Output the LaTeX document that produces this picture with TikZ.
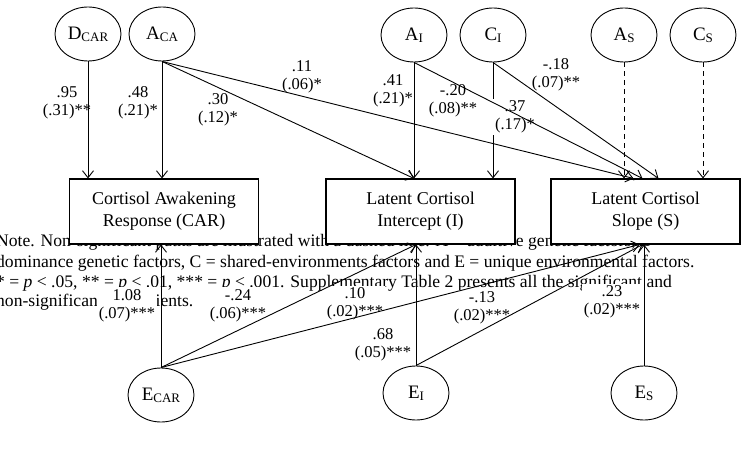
\documentclass[tikz,border=0pt]{standalone}
\usepackage{fontspec}
\setmainfont{Liberation Serif}
\usetikzlibrary{shapes.geometric}
\usetikzlibrary{arrows.meta}
\newcommand{\lsub}[2]{#1\raisebox{-0.25ex}{\fontsize{13}{13}\selectfont #2}}

\begin{document}
\begin{tikzpicture}[x=1pt, y=-1pt,
    factor/.style={draw, ellipse, fill=white, line width=0.9pt, minimum width=66pt, minimum height=54pt, inner sep=0pt, font=\fontsize{19}{21}\selectfont},
    latent/.style={draw, rectangle, fill=white, line width=1.1pt, minimum width=189pt, minimum height=65pt, align=center, font=\fontsize{18}{22}\selectfont},
    coef/.style={fill=white, inner sep=2pt, align=center, font=\fontsize{16.5}{18}\selectfont},
    notetext/.style={anchor=base west, inner sep=0pt, font=\fontsize{17.6}{20}\selectfont},
    sigpath/.style={line width=0.9pt, -{Straight Barb[length=7pt,width=11pt]}},
    nspath/.style={sigpath, dash pattern=on 5pt off 4pt}]
                \useasboundingbox (0,0) rectangle (744,449);
                % note under the figure
                \node[notetext] (note1) at (-4,247) {Note. Non-significant paths are illustrated with a dashed line. A = additive genetic factors, D =};
                \node[notetext] (note2) at (-4,267) {dominance genetic factors, C = shared-environments factors and E = unique environmental factors.};
                \node[notetext] (note3) at (-4,287) {* = \textit{p} < .05, ** = \textit{p} < .01, *** = \textit{p} < .001. Supplementary Table 2 presents all the significant and};
                \node[notetext] (note4) at (-4,306) {non-significant coefficients.};
                % phenotypes
                \node[latent] (car) at (164,211.5) {Cortisol Awakening\\Response (CAR)};
                \node[latent] (int) at (420.5,211.5) {Latent Cortisol\\Intercept (I)};
                \node[latent] (slope) at (645.5,211.5) {Latent Cortisol\\Slope (S)};
                % factors
                \node[factor] (dcar) at (88,34) {\lsub{D}{CAR}};
                \node[factor] (aca) at (162,34) {\lsub{A}{CA}};
                \node[factor] (ai) at (414,35) {\lsub{A}{I}};
                \node[factor] (ci) at (493,35) {\lsub{C}{I}};
                \node[factor] (as) at (624,35) {\lsub{A}{S}};
                \node[factor] (cs) at (703,35) {\lsub{C}{S}};
                \node[factor] (ecar) at (161,395) {\lsub{E}{CAR}};
                \node[factor] (ei) at (416,393) {\lsub{E}{I}};
                \node[factor] (es) at (644,393) {\lsub{E}{S}};
                \draw[sigpath] (ci.south) -- (ci.south |- int.north);
                % coefficients
                \node[coef] (cdcar) at (67,102.5) {.95\\(.31)**};
                \node[coef] (caca) at (138,102.5) {.48\\(.21)*};
                \node[coef] (cacai) at (218,109.5) {.30\\(.12)*};
                \node[coef] (cacas) at (302,76.5) {.11\\(.06)*};
                \node[coef] (cai) at (393,90.5) {.41\\(.21)*};
                \node[coef] (cci) at (453,100.5) {-.20\\(.08)**};
                \node[coef] (cais) at (515,117) {.37\\(.17)*};
                \node[coef] (ccs) at (556,74.5) {-.18\\(.07)**};
                \node[coef] (cecar) at (127,305.5) {1.08\\(.07)***};
                \node[coef] (cecari) at (238,305.5) {-.24\\(.06)***};
                \node[coef] (cecars) at (355,304) {.10\\(.02)***};
                \node[coef] (cei) at (383,345) {.68\\(.05)***};
                \node[coef] (ceis) at (482,308) {-.13\\(.02)***};
                \node[coef] (ces) at (612,302) {.23\\(.02)***};
                % paths
                \draw[sigpath] (dcar.south) -- (dcar.south |- car.north);
                \draw[sigpath] (aca.south) -- (aca.south |- car.north);
                \draw[sigpath] (aca.south) -- (ai.south |- int.north);
                \draw[sigpath] (aca.south) -- ([xshift=-12pt]slope.north);
                \draw[sigpath] (ai.south) -- (ai.south |- int.north);
                \draw[sigpath] (ai.south) -- ([xshift=-3pt]slope.north);
                \draw[sigpath] (ci.south) -- ([xshift=13pt]slope.north);
                \draw[nspath] (as.south) -- (as.south |- slope.north);
                \draw[nspath] (cs.south) -- (cs.south |- slope.north);
                \draw[sigpath] (ecar.north) -- (ecar.north |- car.south);
                \draw[sigpath] (ecar.north) -- (ei.north |- int.south);
                \draw[sigpath] (ecar.north) -- ([xshift=-6pt]slope.south);
                \draw[sigpath] (ei.north) -- (ei.north |- int.south);
                \draw[sigpath] (ei.north) -- ([xshift=-3pt]slope.south);
                \draw[sigpath] (es.north) -- (es.north |- slope.south);
\end{tikzpicture}
\end{document}
